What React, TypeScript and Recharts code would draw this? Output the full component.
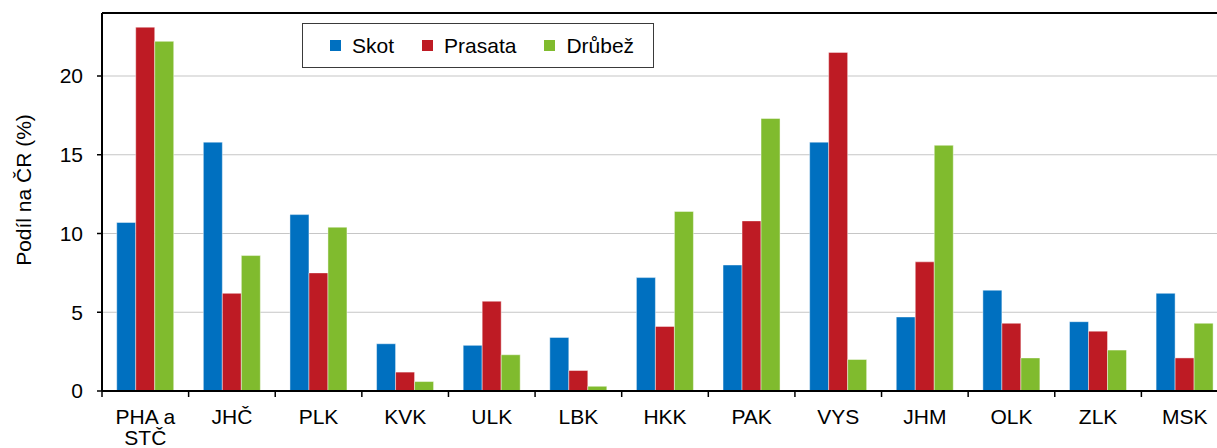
import React from 'react'
import { BarChart, Bar, XAxis, YAxis, CartesianGrid, Legend, ReferenceLine } from 'recharts'

// kraje
const regions = ['PHA a STČ', 'JHČ', 'PLK', 'KVK', 'ULK', 'LBK', 'HKK', 'PAK', 'VYS', 'JHM', 'OLK', 'ZLK', 'MSK']

// podíl na ČR (%)
const skot = [10.7, 15.8, 11.2, 3.0, 2.9, 3.4, 7.2, 8.0, 15.8, 4.7, 6.4, 4.4, 6.2]
const prasata = [23.1, 6.2, 7.5, 1.2, 5.7, 1.3, 4.1, 10.8, 21.5, 8.2, 4.3, 3.8, 2.1]
const drubez = [22.2, 8.6, 10.4, 0.6, 2.3, 0.3, 11.4, 17.3, 2.0, 15.6, 2.1, 2.6, 4.3]

const seriesNames = ['Skot', 'Prasata', 'Drůbež']
const yTicks = [0, 5, 10, 15, 20]

const data = regions.map((name, i) => ({
  name,
  skot: skot[i],
  prasata: prasata[i],
  drubez: drubez[i],
}))

const FONT = '"Liberation Sans", Arial, sans-serif'
const FONT_SIZE = 21
const CHART_W = 1240
const CHART_H = 448
const MARGIN = { top: 13, right: 12, bottom: 0, left: 42 }
const Y_AXIS_W = 60
const BAND = (CHART_W - MARGIN.left - MARGIN.right - Y_AXIS_W) / regions.length

const splitLabel = (value: string) => {
  const words = value.split(' ')
  if (words.length > 2) return [words.slice(0, 2).join(' '), words.slice(2).join(' ')]
  return [value]
}

const RegionTick = (props: any) => {
  const { x, y, payload } = props
  const half = payload && typeof payload.offset === 'number' && payload.offset > 0 ? payload.offset : BAND / 2
  const lines = splitLabel(String(payload.value))
  return (
    <g>
      <line x1={x - half} x2={x - half} y1={y} y2={y + 6} stroke="#000" strokeWidth={1.5} />
      <text x={x} y={y + 33} textAnchor="middle" fill="#000" fontSize={FONT_SIZE} fontFamily={FONT}>
        {lines.map((line, i) => (
          <tspan key={i} x={x} dy={i === 0 ? 0 : 21}>
            {line}
          </tspan>
        ))}
      </text>
    </g>
  )
}

const renderLegend = (props: any) => {
  const items = [...(props.payload || [])].sort(
    (a: any, b: any) => seriesNames.indexOf(a.value) - seriesNames.indexOf(b.value)
  )
  return (
    <div
      style={{
        boxSizing: 'border-box',
        width: 352,
        height: 45,
        border: '1.5px solid #3a3a3a',
        display: 'flex',
        alignItems: 'center',
        paddingLeft: 27,
        fontFamily: FONT,
        fontSize: FONT_SIZE,
        color: '#000',
        background: '#fff',
      }}
    >
      {items.map((entry: any) => (
        <div key={entry.value} style={{ display: 'flex', alignItems: 'center', marginRight: 28 }}>
          <span style={{ display: 'inline-block', width: 11, height: 11, background: entry.color, marginRight: 11 }} />
          <span>{entry.value}</span>
        </div>
      ))}
    </div>
  )
}

export default function App() {
  return (
    <div
      style={{
        position: 'fixed',
        left: 0,
        top: 0,
        width: 1217,
        height: 448,
        overflow: 'hidden',
        background: '#fff',
        fontFamily: FONT,
      }}
    >
      <BarChart
        width={CHART_W}
        height={CHART_H}
        data={data}
        margin={MARGIN}
        barCategoryGap="17%"
        barGap={0}
      >
        <CartesianGrid vertical={false} stroke="#c6c6c6" strokeWidth={1.2} />
        <XAxis
          dataKey="name"
          height={57}
          interval={0}
          tickLine={false}
          tickSize={0}
          tickMargin={0}
          axisLine={{ stroke: '#000', strokeWidth: 2 }}
          tick={<RegionTick />}
        />
        <YAxis
          width={Y_AXIS_W}
          domain={[0, 24]}
          ticks={yTicks}
          interval={0}
          tickSize={5}
          tickMargin={14}
          axisLine={{ stroke: '#000', strokeWidth: 2 }}
          tickLine={{ stroke: '#000', strokeWidth: 1.5 }}
          tick={{ fill: '#000', fontSize: FONT_SIZE, fontFamily: FONT }}
          label={{
            content: () => (
              <text
                x={23}
                y={190}
                transform="rotate(-90, 23, 190)"
                textAnchor="middle"
                dominantBaseline="central"
                fill="#000"
                fontSize={FONT_SIZE}
                fontFamily={FONT}
              >
                Podíl na ČR (%)
              </text>
            ),
          }}
        />
        <ReferenceLine y={24} stroke="#000" strokeWidth={2} />
        <Legend
          layout="horizontal"
          verticalAlign="middle"
          align="center"
          itemSorter={null as any}
          content={renderLegend}
          wrapperStyle={{ position: 'absolute', left: 302, top: 23, width: 352, height: 45 }}
        />
        <Bar dataKey="skot" name="Skot" fill="#0070c0" stroke="rgba(255,255,255,0.55)" strokeWidth={0.8} isAnimationActive={false} />
        <Bar dataKey="prasata" name="Prasata" fill="#be1b24" stroke="rgba(255,255,255,0.55)" strokeWidth={0.8} isAnimationActive={false} />
        <Bar dataKey="drubez" name="Drůbež" fill="#80bb2e" stroke="rgba(255,255,255,0.55)" strokeWidth={0.8} isAnimationActive={false} />
      </BarChart>
    </div>
  )
}
